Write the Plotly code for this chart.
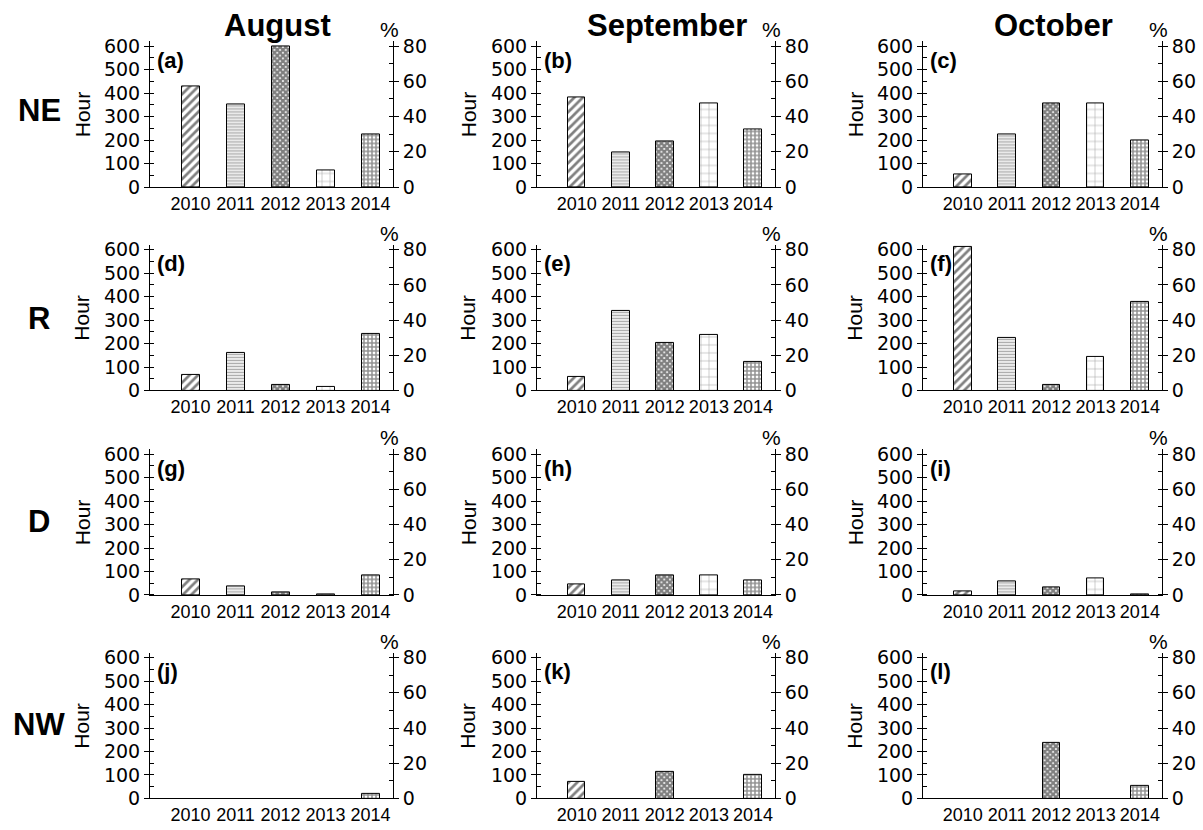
import plotly.graph_objects as go

# Hours per year for each wind regime (rows) and month (columns)
years = [2010, 2011, 2012, 2013, 2014]
year_labels = ["2010", "2011", "2012", "2013", "2014"]
months = ["August", "September", "October"]
regimes = ["NE", "R", "D", "NW"]

ne_aug = [430, 353, 600, 69, 222]
ne_sep = [380, 147, 193, 354, 247]
ne_oct = [54, 225, 358, 357, 200]
r_aug = [65, 162, 24, 17, 242]
r_sep = [57, 337, 204, 237, 122]
r_oct = [612, 225, 25, 142, 378]
d_aug = [67, 35, 11, 2, 85]
d_sep = [43, 61, 85, 83, 64]
d_oct = [14, 58, 33, 71, 1]
nw_aug = [0, 0, 0, 0, 18]
nw_sep = [71, 0, 112, 0, 101]
nw_oct = [0, 0, 235, 0, 54]

panel_values = [
    [ne_aug, ne_sep, ne_oct],
    [r_aug, r_sep, r_oct],
    [d_aug, d_sep, d_oct],
    [nw_aug, nw_sep, nw_oct],
]
panel_letters = "abcdefghijkl"

# Hatching per year
pat_shape = ["/", "-", "x", "+", "+"]
pat_size = [6, 3, 4, 8, 4]
pat_solid = [0.45, 0.5, 0.8, 0.12, 0.6]
pat_fg = ["black", "#555555", "black", "#333333", "#222222"]

HOURS_MAX = 620
PCT_MAX = HOURS_MAX * 80 / 600

W, H = 1203, 830
FONT = "Liberation Sans, Arial, Helvetica, sans-serif"
TICK_FONT = "DejaVu Sans, Liberation Sans, sans-serif"

col_px = [(150, 393), (537, 775), (923, 1162)]
row_bottom_px = [184, 392, 601, 809]
px_per_hour = 0.24

fig = go.Figure()
layout = dict(
    width=W, height=H,
    margin=dict(l=0, r=0, t=0, b=0),
    paper_bgcolor="white", plot_bgcolor="white",
    showlegend=False,
    font=dict(family=FONT, color="black"),
    bargap=0,
)
annotations = []

for r in range(4):
    yb = row_bottom_px[r]
    yt = yb - HOURS_MAX * px_per_hour
    ydom = [1 - yb / H, 1 - yt / H]
    for c in range(3):
        k = r * 3 + c
        xi = k + 1
        yi1 = 2 * k + 1
        yi2 = 2 * k + 2
        xref = "x" if xi == 1 else f"x{xi}"
        yref1 = "y" if yi1 == 1 else f"y{yi1}"
        yref2 = f"y{yi2}"
        xkey = "xaxis" if xi == 1 else f"xaxis{xi}"
        ykey1 = "yaxis" if yi1 == 1 else f"yaxis{yi1}"
        ykey2 = f"yaxis{yi2}"
        x0, x1 = col_px[c]
        xdom = [x0 / W, x1 / W]

        vals = panel_values[r][c]
        # years with no hours get no bar outline at all
        drawn = [v if v > 0 else None for v in vals]
        fig.add_trace(go.Bar(
            x=years, y=drawn, width=0.4,
            xaxis=xref, yaxis=yref1,
            marker=dict(
                color="white",
                line=dict(color="black", width=1),
                pattern=dict(shape=pat_shape, size=pat_size,
                             solidity=pat_solid, fgcolor=pat_fg,
                             bgcolor="white"),
            ),
            hoverinfo="x+y",
        ))
        # carrier trace so the percentage axis is drawn
        fig.add_trace(go.Scatter(
            x=[years[0]], y=[0], xaxis=xref, yaxis=yref2,
            mode="markers", marker=dict(opacity=0), hoverinfo="skip",
        ))

        layout[xkey] = dict(
            domain=xdom, anchor=yref1, range=[2009.1, 2014.5],
            tickmode="array", tickvals=years, ticktext=year_labels,
            showline=True, linecolor="black", linewidth=1,
            ticks="", showgrid=False, zeroline=False,
            tickfont=dict(size=18, family=FONT, color="black"),
            fixedrange=True,
        )
        layout[ykey1] = dict(
            domain=ydom, anchor=xref, range=[0, HOURS_MAX],
            tickmode="array", tickvals=[0, 100, 200, 300, 400, 500, 600],
            ticks="outside", ticklen=5, tickcolor="black",
            minor=dict(tick0=0, dtick=50, ticks="inside", ticklen=4,
                       tickcolor="black", showgrid=False),
            showline=True, linecolor="black", linewidth=1,
            showgrid=False, zeroline=False,
            tickfont=dict(size=19, family=TICK_FONT, color="black"),
            fixedrange=True,
        )
        layout[ykey2] = dict(
            domain=ydom, anchor=xref, overlaying=yref1, side="right",
            range=[0, PCT_MAX],
            tickmode="array", tickvals=[0, 20, 40, 60, 80],
            ticks="outside", ticklen=5, tickcolor="black",
            minor=dict(tick0=0, dtick=10, ticks="inside", ticklen=4,
                       tickcolor="black", showgrid=False),
            showline=True, linecolor="black", linewidth=1,
            showgrid=False, zeroline=False,
            tickfont=dict(size=19, family=TICK_FONT, color="black"),
            fixedrange=True,
        )

        # panel letter
        annotations.append(dict(
            text=f"<b>({panel_letters[k]})</b>",
            xref=f"{xref} domain", yref=f"{yref1} domain",
            x=0.02, y=0.87, xanchor="left", yanchor="middle",
            showarrow=False, font=dict(size=22, family=FONT, color="black"),
        ))
        # percent unit above the right axis
        annotations.append(dict(
            text="%", xref=f"{xref} domain", yref=f"{yref1} domain",
            x=1, y=1, xanchor="center", yanchor="bottom", xshift=-4, yshift=-2,
            showarrow=False, font=dict(size=21, family=FONT, color="black"),
        ))
        # hours axis title
        hour_x = [82, 468, 855][c]
        annotations.append(dict(
            text="Hour", textangle=-90,
            xref="paper", yref=f"{yref1} domain",
            x=hour_x / W, y=0.5, xanchor="center", yanchor="middle",
            showarrow=False, font=dict(size=21, family=FONT, color="black"),
        ))

# month headers
for name, cx in zip(months, [277, 667, 1053]):
    annotations.append(dict(
        text=f"<b>{name}</b>", xref="paper", yref="paper",
        x=cx / W, y=1 - 19 / H, xanchor="center", yanchor="middle",
        showarrow=False, font=dict(size=31, family=FONT, color="black"),
    ))

# regime labels
for name, cy in zip(regimes, [106, 318, 526, 733]):
    annotations.append(dict(
        text=f"<b>{name}</b>", xref="paper", yref="paper",
        x=39 / W, y=1 - cy / H, xanchor="center", yanchor="middle",
        showarrow=False, font=dict(size=31, family=FONT, color="black"),
    ))

layout["annotations"] = annotations
fig.update_layout(**layout)
fig.write_html("out.html")
